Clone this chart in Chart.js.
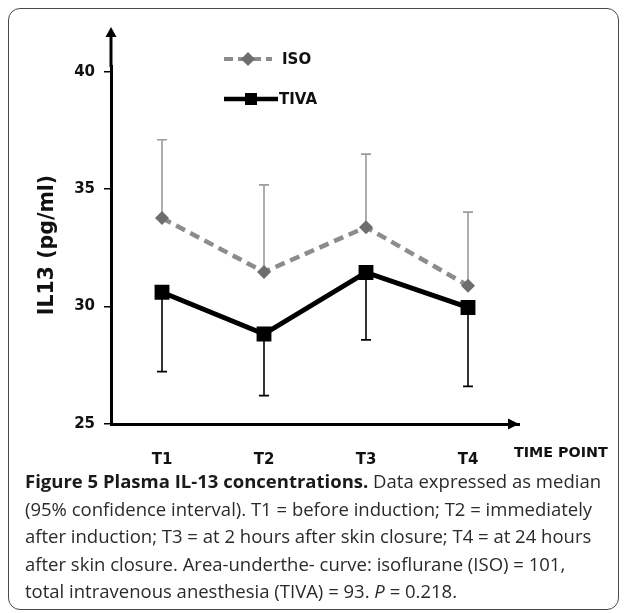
<!DOCTYPE html>
<html>
<head>
<meta charset="utf-8">
<script src="https://cdn.jsdelivr.net/npm/chart.js@4/dist/chart.umd.min.js"></script>
<style>
  html, body { margin:0; padding:0; background:#fff; }
  body { width:627px; height:613px; position:relative; overflow:hidden; }
  #frame { position:absolute; left:8px; top:8px; width:609px; height:600px; border:1.5px solid #4a4a4a; border-radius:12px; }
  #c { position:absolute; left:0; top:0; }
  .lg { position:absolute; font-family:"DejaVu Sans", sans-serif; font-weight:bold; font-size:15px; color:#111; line-height:18px; }
  #xtitle { position:absolute; left:514px; top:443px; font-family:"DejaVu Sans", sans-serif; font-weight:bold; font-size:14.3px; color:#111; line-height:18px; white-space:nowrap; }
  #caption { position:absolute; left:25px; top:467px; font-family:"Open Sans", sans-serif; font-size:18.5px; line-height:27.5px; color:#2a2a2a; white-space:nowrap; }
  #caption b { color:#1a1a1a; }
</style>
</head>
<body>
<div id="frame"></div>
<canvas id="c" width="627" height="470"></canvas>

<svg style="position:absolute;left:222px;top:50px" width="60" height="20">
  <line x1="2" y1="9" x2="50" y2="9" stroke="#8c8c8c" stroke-width="4" stroke-dasharray="9,5"/>
  <polygon points="26,2 33,9 26,16 19,9" fill="#6e6e6e"/>
</svg>
<div class="lg" style="left:282px;top:50px">ISO</div>
<svg style="position:absolute;left:222px;top:89px" width="60" height="20">
  <line x1="2" y1="10" x2="56" y2="10" stroke="#000" stroke-width="4.5"/>
  <rect x="23" y="4" width="12" height="12" fill="#000"/>
</svg>
<div class="lg" style="left:279px;top:90px">TIVA</div>

<div id="xtitle">TIME POINT</div>

<div id="caption"><b>Figure 5 Plasma IL-13 concentrations.</b> Data expressed as median<br>(95% confidence interval). T1 = before induction; T2 = immediately<br>after induction; T3 = at 2 hours after skin closure; T4 = at 24 hours<br>after skin closure. Area-underthe- curve: isoflurane (ISO) = 101,<br>total intravenous anesthesia (TIVA) = 93. <i>P</i> = 0.218.</div>

<script>
// ---- data ----
const categories = ["T1", "T2", "T3", "T4"];
const isoMedian = [33.77, 31.47, 33.38, 30.89];
const isoUpper  = [37.10, 35.18, 36.49, 34.02];
const tivaMedian = [30.61, 28.83, 31.45, 29.96];
const tivaLower  = [27.23, 26.21, 28.58, 26.60];
const yTicks = [25, 30, 35, 40];
const yMin = 25, yMax = 40.24, yArrowTop = 41.9;

const errorBars = {
  id: 'errorBars',
  beforeDatasetsDraw(chart) {
    const ctx = chart.ctx, x = chart.scales.x, y = chart.scales.y;
    const draw = (vals, bounds, color, width) => {
      ctx.save();
      ctx.strokeStyle = color; ctx.lineWidth = width;
      vals.forEach((v, i) => {
        const px = x.getPixelForValue(i);
        const py1 = y.getPixelForValue(v), py2 = y.getPixelForValue(bounds[i]);
        ctx.beginPath();
        ctx.moveTo(px, py1); ctx.lineTo(px, py2);
        ctx.moveTo(px - 5, py2); ctx.lineTo(px + 5, py2);
        ctx.stroke();
      });
      ctx.restore();
    };
    draw(isoMedian, isoUpper, '#9a9a9a', 1.6);
    draw(tivaMedian, tivaLower, '#000', 1.6);
  }
};

const arrows = {
  id: 'arrows',
  afterDraw(chart) {
    const ctx = chart.ctx, x = chart.scales.x, y = chart.scales.y;
    const a = chart.chartArea;
    const topPx = y.getPixelForValue(yArrowTop);
    ctx.save();
    ctx.strokeStyle = '#000'; ctx.fillStyle = '#000'; ctx.lineWidth = 3;
    ctx.beginPath(); ctx.moveTo(a.left, a.top + 1); ctx.lineTo(a.left, topPx + 8); ctx.stroke();
    ctx.beginPath();
    ctx.moveTo(a.left, topPx); ctx.lineTo(a.left - 5.5, topPx + 10); ctx.lineTo(a.left + 5.5, topPx + 10); ctx.closePath(); ctx.fill();
    const by = y.getPixelForValue(yMin);
    ctx.beginPath();
    ctx.moveTo(a.right, by); ctx.lineTo(a.right - 11, by - 5.5); ctx.lineTo(a.right - 11, by + 5.5); ctx.closePath(); ctx.fill();
    ctx.restore();
  }
};

new Chart(document.getElementById('c'), {
  type: 'line',
  data: {
    labels: categories,
    datasets: [
      {
        label: 'ISO', data: isoMedian,
        borderColor: '#8c8c8c', borderWidth: 4.5, borderDash: [10, 6],
        pointStyle: 'rectRot', pointRadius: 7, pointBackgroundColor: '#6e6e6e',
        pointBorderColor: '#6e6e6e', pointBorderWidth: 0, tension: 0, fill: false
      },
      {
        label: 'TIVA', data: tivaMedian,
        borderColor: '#000', borderWidth: 5,
        pointStyle: 'rect', pointRadius: 10.5, pointBackgroundColor: '#000',
        pointBorderColor: '#000', pointBorderWidth: 0, tension: 0, fill: false
      }
    ]
  },
  options: {
    responsive: false, animation: false, devicePixelRatio: 1,
    layout: { padding: { top: 66, right: 108, left: 0, bottom: 0 } },
    plugins: { legend: { display: false }, tooltip: { enabled: false } },
    scales: {
      x: {
        type: 'category', offset: true,
        grid: { display: false },
        border: { display: true, color: '#000', width: 3 },
        ticks: { color: '#111', padding: 19, font: { family: 'DejaVu Sans', weight: 'bold', size: 15 } },
        afterFit(s) { s.height = 46; }
      },
      y: {
        type: 'linear', min: yMin, max: yMax,
        afterBuildTicks(s) { s.ticks = yTicks.map(v => ({ value: v })); },
        grid: { display: true, drawOnChartArea: false, drawTicks: true, tickLength: 7, color: '#000', lineWidth: 1.5 },
        border: { display: true, color: '#000', width: 3 },
        ticks: { color: '#111', padding: 9, font: { family: 'DejaVu Sans', weight: 'bold', size: 15 } },
        title: { display: true, text: 'IL13 (pg/ml)', color: '#111', padding: { top: 35, bottom: 0 }, font: { family: 'DejaVu Sans', weight: 'bold', size: 20.5 } },
        afterFit(s) { s.width = 111; }
      }
    }
  },
  plugins: [errorBars, arrows]
});
</script>
</body>
</html>
